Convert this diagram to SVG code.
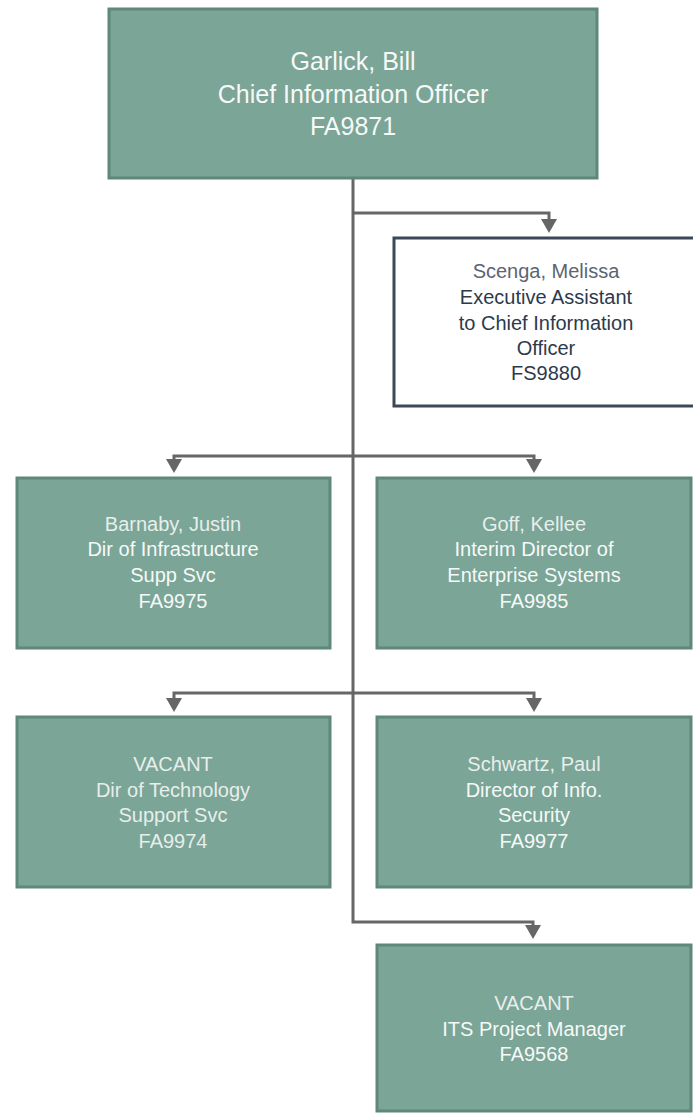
<svg xmlns="http://www.w3.org/2000/svg" width="693" height="1113" viewBox="0 0 693 1113">
<style>
.g{fill:#7aa597;stroke:#5f877a;stroke-width:3}
.w{fill:#ffffff;stroke:#3b4858;stroke-width:3}
.t{font-family:"Liberation Sans",Arial,sans-serif;font-size:20px;text-anchor:middle}
.top{font-size:25px}
.lt{fill:#f7f9f8}
.nm{fill:#e8eeeb}
.dn{fill:#5b6571}
.dk{fill:#2c3a4c}
.c{fill:none;stroke:#666666;stroke-width:3}
</style>
<defs>
<marker id="ah" markerUnits="userSpaceOnUse" viewBox="0 0 14 16" refX="6" refY="8" markerWidth="14" markerHeight="16" orient="auto">
<path d="M0,0 L14,8 L0,16 z" fill="#666666"/>
</marker>
</defs>
<g id="connectors">
<path class="c" d="M353,178 V922 H533 V931" marker-end="url(#ah)"/>
<path class="c" d="M353,213 H549 V225" marker-end="url(#ah)"/>
<path class="c" d="M353,456 H174 V465" marker-end="url(#ah)"/>
<path class="c" d="M353,456 H534 V465" marker-end="url(#ah)"/>
<path class="c" d="M353,693 H174 V704" marker-end="url(#ah)"/>
<path class="c" d="M353,693 H534 V704" marker-end="url(#ah)"/>
</g>
<g id="n-garlick">
<rect class="g" x="109" y="9" width="488" height="169"/>
<text class="t top lt" x="353" y="70">Garlick, Bill</text>
<text class="t top lt" x="353" y="103">Chief Information Officer</text>
<text class="t top lt" x="353" y="135">FA9871</text>
</g>
<g id="n-scenga">
<rect class="w" x="394" y="238" width="310" height="168"/>
<text class="t dn" x="546" y="278">Scenga, Melissa</text>
<text class="t dk" x="546" y="304">Executive Assistant</text>
<text class="t dk" x="546" y="330">to Chief Information</text>
<text class="t dk" x="546" y="355">Officer</text>
<text class="t dk" x="546" y="380">FS9880</text>
</g>
<g id="n-barnaby">
<rect class="g" x="17" y="478" width="313" height="170"/>
<text class="t nm" x="173" y="531">Barnaby, Justin</text>
<text class="t lt" x="173" y="556">Dir of Infrastructure</text>
<text class="t lt" x="173" y="582">Supp Svc</text>
<text class="t lt" x="173" y="608">FA9975</text>
</g>
<g id="n-goff">
<rect class="g" x="377" y="478" width="314" height="170"/>
<text class="t nm" x="534" y="531">Goff, Kellee</text>
<text class="t lt" x="534" y="556">Interim Director of</text>
<text class="t lt" x="534" y="582">Enterprise Systems</text>
<text class="t lt" x="534" y="608">FA9985</text>
</g>
<g id="n-vacant-tech">
<rect class="g" x="17" y="717" width="313" height="170"/>
<text class="t nm" x="173" y="771">VACANT</text>
<text class="t nm" x="173" y="797">Dir of Technology</text>
<text class="t nm" x="173" y="822">Support Svc</text>
<text class="t nm" x="173" y="848">FA9974</text>
</g>
<g id="n-schwartz">
<rect class="g" x="377" y="717" width="314" height="170"/>
<text class="t nm" x="534" y="771">Schwartz, Paul</text>
<text class="t lt" x="534" y="797">Director of Info.</text>
<text class="t lt" x="534" y="822">Security</text>
<text class="t lt" x="534" y="848">FA9977</text>
</g>
<g id="n-vacant-pm">
<rect class="g" x="377" y="945" width="314" height="166"/>
<text class="t nm" x="534" y="1010">VACANT</text>
<text class="t lt" x="534" y="1036">ITS Project Manager</text>
<text class="t lt" x="534" y="1061">FA9568</text>
</g>
</svg>
